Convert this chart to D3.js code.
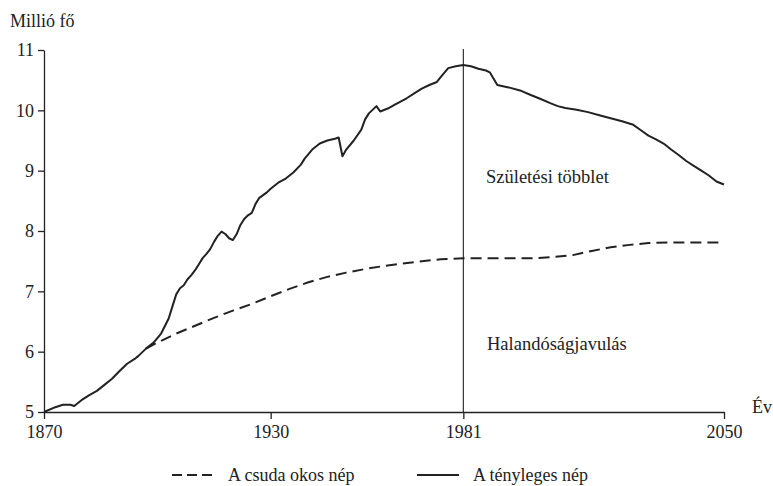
<!DOCTYPE html>
<html lang="hu">
<head>
  <meta charset="utf-8">
  <script src="https://d3js.org/d3.v7.min.js"></script>
  <style>
    body { margin: 0; background: #fff; }
    svg { font-family: "Liberation Serif", "Times New Roman", Times, "DejaVu Serif", "Noto Serif", serif; }
    .axis path, .axis line { stroke: #222; stroke-width: 1.3; }
  </style>
</head>
<body>
  <svg id="chart" width="773" height="486"></svg>
  <script>
    var serif = "'Liberation Serif', 'Times New Roman', Times, 'DejaVu Serif', 'Noto Serif', serif";

    // years shown on the x axis
    var xTicks = [1870, 1930, 1981, 2050];
    var yTicks = [5, 6, 7, 8, 9, 10, 11];

    // actual population (millions)
    var actualYears = [1870, 1873, 1875, 1877, 1878, 1880, 1882, 1884, 1886, 1888, 1890, 1892, 1894, 1895, 1897,
      1899, 1901, 1903, 1904, 1905, 1906, 1907, 1908, 1909, 1910, 1911, 1912, 1913, 1914, 1915, 1916,
      1917, 1918, 1919, 1920, 1921, 1922, 1923, 1924, 1925, 1926, 1927, 1929, 1930, 1932, 1934, 1936, 1938,
      1939, 1941, 1943, 1945, 1947, 1948, 1949, 1950, 1952, 1954, 1955, 1956, 1958, 1959, 1961, 1963, 1966,
      1968, 1970, 1972, 1974, 1975, 1977, 1979, 1981, 1983, 1985, 1987, 1988, 1990, 1993, 1996, 1999, 2001,
      2004, 2006, 2008, 2011, 2014, 2017, 2020, 2023, 2026, 2028, 2030, 2032, 2034, 2036, 2038, 2040, 2042,
      2044, 2046, 2048, 2050];
    var actualValues = [5.0, 5.08, 5.12, 5.12, 5.1, 5.2, 5.28, 5.35, 5.45, 5.55, 5.68, 5.8, 5.88, 5.93, 6.05,
      6.15, 6.3, 6.55, 6.75, 6.95, 7.05, 7.1, 7.2, 7.27, 7.35, 7.45, 7.55, 7.62, 7.7, 7.82, 7.92,
      7.99, 7.95, 7.88, 7.85, 7.95, 8.1, 8.2, 8.26, 8.3, 8.45, 8.55, 8.64, 8.7, 8.8, 8.87, 8.97, 9.1,
      9.2, 9.35, 9.45, 9.5, 9.53, 9.55, 9.24, 9.35, 9.5, 9.68, 9.85, 9.95, 10.07, 9.98, 10.03, 10.1, 10.2,
      10.28, 10.36, 10.42, 10.47, 10.55, 10.7, 10.73, 10.75, 10.73, 10.69, 10.66, 10.63, 10.42, 10.38, 10.33, 10.25, 10.2,
      10.12, 10.07, 10.04, 10.01, 9.97, 9.92, 9.87, 9.82, 9.76, 9.67, 9.58, 9.52, 9.45, 9.35, 9.26, 9.16, 9.08,
      9.0, 8.92, 8.82, 8.77];

    // hypothetical population (mortality improvement only)
    var hypoYears = [1897, 1900, 1905, 1910, 1915, 1920, 1925, 1930, 1935, 1940, 1945, 1950, 1955, 1960, 1965,
      1970, 1975, 1981, 1990, 2000, 2005, 2010, 2015, 2020, 2025, 2030, 2035, 2050];
    var hypoValues = [6.05, 6.15, 6.3, 6.43, 6.56, 6.68, 6.79, 6.92, 7.04, 7.15, 7.24, 7.31, 7.37, 7.42, 7.46,
      7.5, 7.53, 7.55, 7.55, 7.55, 7.57, 7.6, 7.67, 7.73, 7.77, 7.8, 7.81, 7.81];

    var svg = d3.select("#chart");

    var x = d3.scaleLinear().domain([1870, 2050]).range([44, 724]);
    var y = d3.scaleLinear().domain([5, 11]).range([412, 50]);

    var line = d3.line()
      .x(function(d) { return x(d[0]); })
      .y(function(d) { return y(d[1]); });

    var actual = d3.zip(actualYears, actualValues);
    var hypo = d3.zip(hypoYears, hypoValues);

    // 1981 divider
    svg.append("line")
      .attr("x1", x(1981)).attr("x2", x(1981))
      .attr("y1", y(11) - 1).attr("y2", y(5))
      .attr("stroke", "#222").attr("stroke-width", 1.1);

    svg.append("g")
      .attr("class", "axis")
      .attr("transform", "translate(0," + y(5) + ")")
      .call(d3.axisBottom(x).tickValues(xTicks).tickFormat(d3.format("d")).tickSize(7).tickSizeOuter(0).tickPadding(6));

    svg.append("g")
      .attr("class", "axis")
      .attr("transform", "translate(" + x(1870) + ",0)")
      .call(d3.axisLeft(y).tickValues(yTicks).tickFormat(d3.format("d")).tickSize(6).tickSizeOuter(0).tickPadding(4));

    svg.selectAll(".axis").attr("font-family", serif).attr("font-size", 18);
    svg.selectAll(".axis text").attr("fill", "#222");

    svg.append("path")
      .datum(hypo)
      .attr("d", line)
      .attr("fill", "none")
      .attr("stroke", "#222")
      .attr("stroke-width", 2)
      .attr("stroke-dasharray", "11,6");

    svg.append("path")
      .datum(actual)
      .attr("d", line)
      .attr("fill", "none")
      .attr("stroke", "#222")
      .attr("stroke-width", 2)
      .attr("stroke-linejoin", "round");

    var labels = svg.append("g").attr("font-family", serif).attr("fill", "#222");
    labels.append("text").attr("x", 10).attr("y", 27).attr("font-size", 18).text("Millió fő");
    labels.append("text").attr("x", 752).attr("y", 413).attr("font-size", 18).text("Év");
    labels.append("text").attr("x", 486).attr("y", 183).attr("font-size", 18.5).text("Születési többlet");
    labels.append("text").attr("x", 487).attr("y", 350).attr("font-size", 18.5).text("Halandóságjavulás");

    // legend
    var legend = [
      { label: "A csuda okos nép", x: 172, dash: "10,5" },
      { label: "A tényleges nép", x: 417, dash: null }
    ];
    var lg = labels.append("g").selectAll("g").data(legend).enter().append("g");
    lg.append("line")
      .attr("x1", function(d) { return d.x; })
      .attr("x2", function(d) { return d.x + 42; })
      .attr("y1", 475).attr("y2", 475)
      .attr("stroke", "#222").attr("stroke-width", 2)
      .attr("stroke-dasharray", function(d) { return d.dash; });
    lg.append("text")
      .attr("x", function(d) { return d.x + 56; })
      .attr("y", 481)
      .attr("font-size", 18)
      .text(function(d) { return d.label; });
  </script>
</body>
</html>
